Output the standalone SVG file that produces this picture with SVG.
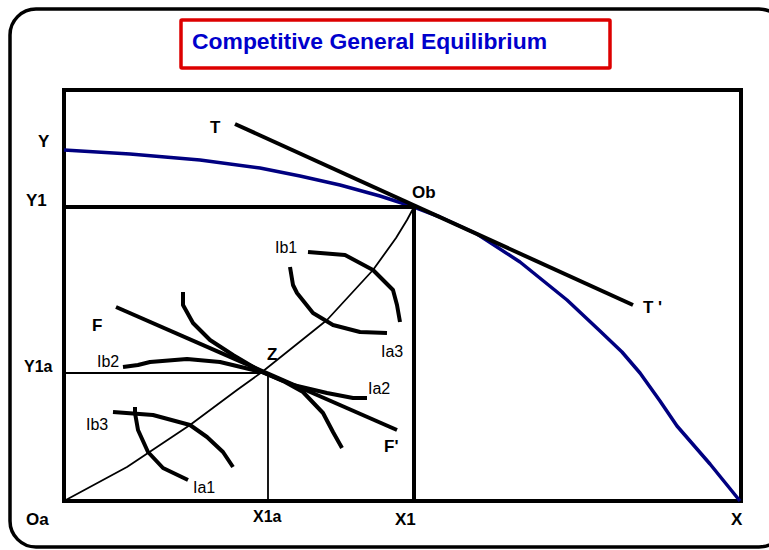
<svg xmlns="http://www.w3.org/2000/svg" width="769" height="550" viewBox="0 0 769 550">
<style>
.lb{font-family:"Liberation Sans",Arial,sans-serif;font-weight:bold;font-size:17px;fill:#000}
.lbs{font-family:"Liberation Sans",Arial,sans-serif;font-weight:bold;font-size:16px;fill:#000}
.lr{font-family:"Liberation Sans",Arial,sans-serif;font-size:16px;fill:#000}
.thick{fill:none;stroke:#000;stroke-width:4;stroke-linejoin:round}
.ic{fill:none;stroke:#000;stroke-width:4;stroke-linejoin:round}
.thin{fill:none;stroke:#000;stroke-width:1.8;stroke-linejoin:round}
</style>
<rect width="769" height="550" fill="#fff"/>
<rect x="10" y="9" width="775" height="538" rx="26" fill="none" stroke="#000" stroke-width="3.5"/>
<g id="title">
<rect x="181" y="20" width="429" height="48" fill="#fff" stroke="#dd0000" stroke-width="3.5" rx="1"/>
<text x="192" y="49" font-family="Liberation Sans,Arial,sans-serif" font-weight="bold" font-size="22" fill="#0000cc" textLength="355" lengthAdjust="spacingAndGlyphs">Competitive General Equilibrium</text>
</g>
<g id="frame">
<rect x="64" y="90" width="677" height="411" fill="none" stroke="#000" stroke-width="4"/>
</g>
<g id="connectors">
<path id="ppf" d="M64,150 L130,154 L200,160 L260,168 L300,176 L340,185 L380,196 L414,207 L440,217 L477,234 L520,262 L567,300 L600,331 L622,352 L640,373 L660,401 L677,426 L710,464 L740,501" fill="none" stroke="#000080" stroke-width="3.5" stroke-linejoin="round"/>
<path d="M64,207 L414,207 L414,501" class="thick"/>
<path d="M235,124 L633,305" class="thick"/>
<path d="M64,373 L268,373 L268,501" class="thin"/>
<path d="M64,501 L127,467 L190,425 L237,390 L262,372 L277,360 L327,320 L373,270 L396,238 L407,220 L414,207" class="thin"/>
<path d="M116,307 L397,430" class="thick"/>
<path d="M308,252 L345,255 L373,270 L393,290 L397,305 L400,322" class="ic"/>
<path d="M290,267 L293,285 L297,293 L313,313 L333,325 L360,332 L387,333" class="ic"/>
<path d="M183,292 L183,305 L193,323 L210,340 L233,355 L262,372 L285,382 L303,392 L323,413 L333,432 L342,448" class="ic"/>
<path d="M123,367 L138,365 L150,362 L187,359 L220,362 L262,372 L293,385 L327,393 L353,398 L367,398" class="ic"/>
<path d="M113,412 L153,415 L190,425 L207,437 L223,452 L233,467" class="ic"/>
<path d="M135,407 L135,413 L138,430 L148,452 L163,468 L188,480" class="ic"/>
</g>
<g id="labels">
<text class="lb" x="210" y="133">T</text>
<text class="lb" x="38" y="147">Y</text>
<text class="lb" x="26" y="206">Y1</text>
<text class="lb" x="412" y="198">Ob</text>
<text class="lb" x="643" y="313">T '</text>
<text class="lb" x="92" y="331">F</text>
<text class="lb" x="267" y="360">Z</text>
<text class="lb" x="384" y="452">F'</text>
<text class="lbs" x="24" y="372">Y1a</text>
<text class="lr" x="97" y="367">Ib2</text>
<text class="lr" x="368" y="394">Ia2</text>
<text class="lr" x="381" y="357">Ia3</text>
<text class="lr" x="275" y="253">Ib1</text>
<text class="lr" x="86" y="430">Ib3</text>
<text class="lr" x="193" y="493">Ia1</text>
<text class="lb" x="26" y="525">Oa</text>
<text class="lbs" x="253" y="522">X1a</text>
<text class="lb" x="395" y="525">X1</text>
<text class="lb" x="731" y="525">X</text>
</g>
</svg>
